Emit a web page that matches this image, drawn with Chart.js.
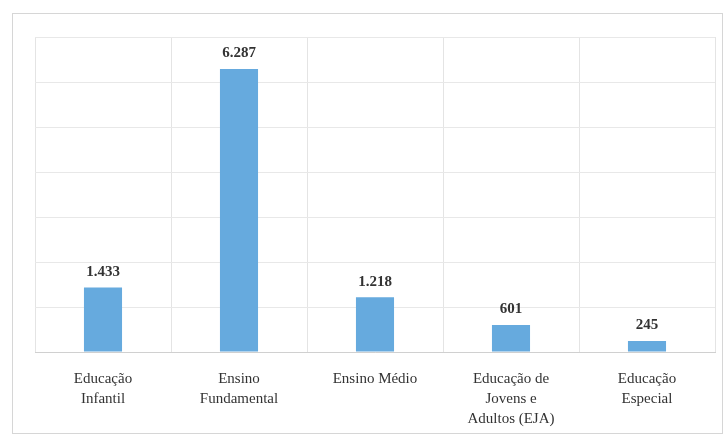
<!DOCTYPE html>
<html>
<head>
<meta charset="utf-8">
<script src="https://cdn.jsdelivr.net/npm/chart.js@4"></script>
<style>
  body { margin: 0; background: #fff; }
  #wrap { width: 727px; height: 438px; }
</style>
</head>
<body>
<div id="wrap"><canvas id="myChart"></canvas></div>
<script>
const categorias = [
  ["Educação", "Infantil"],
  ["Ensino", "Fundamental"],
  ["Ensino Médio"],
  ["Educação de", "Jovens e", "Adultos (EJA)"],
  ["Educação", "Especial"]
];
const matriculas = [1433, 6287, 1218, 601, 245];
const rotulos = ["1.433", "6.287", "1.218", "601", "245"];

// moldura cinza em volta do gráfico
const moldura = {
  id: "moldura",
  beforeDraw(chart) {
    const c = chart.ctx;
    c.save();
    c.fillStyle = "#fff";
    c.fillRect(0, 0, chart.width, chart.height);
    c.strokeStyle = "#d6d6d6";
    c.lineWidth = 1;
    c.strokeRect(12.5, 13.5, 710, 420);
    c.restore();
  }
};

// valores em cima das barras
const valores = {
  id: "valores",
  afterDatasetsDraw(chart) {
    const c = chart.ctx;
    const meta = chart.getDatasetMeta(0);
    c.save();
    c.font = "bold 15px 'Liberation Serif', serif";
    c.fillStyle = "#333";
    c.textAlign = "center";
    c.textBaseline = "bottom";
    meta.data.forEach((bar, i) => {
      c.fillText(rotulos[i], bar.x, bar.y - 8);
    });
    c.restore();
  }
};

new Chart(document.getElementById("myChart"), {
  type: "bar",
  data: {
    labels: categorias,
    datasets: [{
      data: matriculas,
      backgroundColor: "#66aade",
      barPercentage: 0.28,
      categoryPercentage: 1
    }]
  },
  options: {
    responsive: true,
    maintainAspectRatio: false,
    animation: false,
    layout: { padding: { left: 35, right: 12, top: 37, bottom: 0 } },
    plugins: {
      legend: { display: false },
      tooltip: { enabled: false }
    },
    scales: {
      x: {
        afterFit(s) { s.height = 86; },
        grid: { color: "#e4e4e4", drawTicks: false },
        border: { color: "#d0d0d0" },
        ticks: {
          color: "#333",
          padding: 17,
          maxRotation: 0,
          font: { family: "'Liberation Serif', serif", size: 15, lineHeight: 1.33 }
        }
      },
      y: {
        min: 0,
        max: 7000,
        ticks: { stepSize: 1000, display: false },
        grid: { color: "#e8e8e8", drawTicks: false },
        border: { display: false }
      }
    }
  },
  plugins: [moldura, valores]
});
</script>
</body>
</html>
